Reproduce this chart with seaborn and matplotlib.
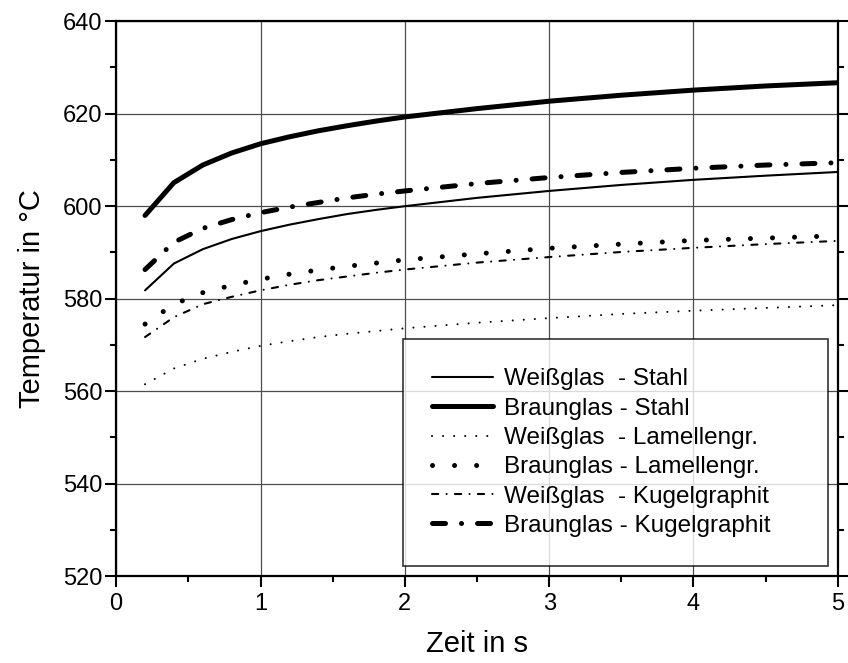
import numpy as np
import pandas as pd
import matplotlib
matplotlib.use("Agg")
import matplotlib.pyplot as plt
import seaborn as sns
from matplotlib.ticker import MultipleLocator

# ------------------------------------------------------------
# Data
# ------------------------------------------------------------
zeit = [0.2, 0.4, 0.6, 0.8, 1.0, 1.2, 1.4, 1.6, 1.8, 2.0,
        2.5, 3.0, 3.5, 4.0, 4.5, 5.0]

weiss_stahl = [581.8, 587.6, 590.7, 592.9, 594.6, 596.0, 597.2, 598.3,
               599.2, 600.0, 601.8, 603.3, 604.6, 605.7, 606.6, 607.4]
braun_stahl = [598.0, 605.1, 608.9, 611.5, 613.5, 615.0, 616.3, 617.4,
               618.4, 619.3, 621.1, 622.7, 624.0, 625.1, 626.0, 626.7]
weiss_lamelle = [561.5, 564.9, 567.0, 568.5, 569.8, 570.8, 571.7, 572.4,
                 573.0, 573.6, 574.8, 575.8, 576.7, 577.4, 578.0, 578.6]
braun_lamelle = [574.5, 578.8, 581.3, 582.9, 584.2, 585.3, 586.2, 587.0,
                 587.7, 588.4, 589.7, 590.9, 591.8, 592.6, 593.1, 593.6]
weiss_kugel = [571.7, 576.0, 578.8, 580.4, 581.8, 583.0, 584.0, 584.8,
               585.6, 586.3, 587.8, 589.0, 590.1, 591.0, 591.8, 592.5]
braun_kugel = [586.3, 592.2, 595.2, 597.1, 598.6, 599.8, 600.8, 601.8,
               602.6, 603.3, 604.9, 606.2, 607.3, 608.2, 608.9, 609.4]

labels = ["Weißglas  - Stahl", "Braunglas - Stahl",
          "Weißglas  - Lamellengr.", "Braunglas - Lamellengr.",
          "Weißglas  - Kugelgraphit", "Braunglas - Kugelgraphit"]
series = [weiss_stahl, braun_stahl, weiss_lamelle, braun_lamelle,
          weiss_kugel, braun_kugel]

# line style per series: (linewidth, dash pattern or None for solid)
styles = [(1.5, None),
          (3.6, None),
          (1.5, (0.01, 5.3)),
          (3.6, (0.01, 4.4)),
          (1.5, (3, 4, 0.01, 4)),
          (3.6, (2.6, 3.2, 0.01, 3.2))]

# ------------------------------------------------------------
# Plot
# ------------------------------------------------------------
sns.set_style("white")
plt.rcParams['font.family'] = ['Liberation Sans', 'DejaVu Sans']
plt.rcParams['text.color'] = 'black'
plt.rcParams['axes.labelcolor'] = 'black'
plt.rcParams['xtick.color'] = 'black'
plt.rcParams['ytick.color'] = 'black'

fig, ax = plt.subplots(figsize=(8.48, 6.63), dpi=100)
fig.subplots_adjust(left=0.137, right=0.988, top=0.968, bottom=0.131)

for lab, vals, (lw, dash) in zip(labels, series, styles):
    df = pd.DataFrame({'Zeit': zeit, 'Temp': vals})
    sns.lineplot(data=df, x='Zeit', y='Temp', color='black', lw=lw,
                 label=lab, ax=ax, legend=False)
    line = ax.lines[-1]
    line.set_dash_capstyle('round')
    line.set_solid_capstyle('round')
    if dash is not None:
        line.set_dashes(dash)

ax.set_xlim(0, 5)
ax.set_ylim(520, 640)
ax.xaxis.set_major_locator(MultipleLocator(1))
ax.xaxis.set_minor_locator(MultipleLocator(0.5))
ax.yaxis.set_major_locator(MultipleLocator(20))
ax.yaxis.set_minor_locator(MultipleLocator(10))

ax.grid(True, which='major', color='0.3', lw=0.9)
ax.set_axisbelow(True)
for sp in ax.spines.values():
    sp.set_linewidth(1.6)
    sp.set_color('black')

ax.tick_params(which='major', direction='out', length=8, width=1.5,
               labelsize=17, left=True, bottom=True)
ax.tick_params(which='minor', direction='out', length=4, width=1.5,
               left=True, bottom=True)
ax.tick_params(axis='y', which='major', pad=2)
ax.tick_params(axis='x', which='major', pad=4)
ax.tick_params(axis='y', which='both', right=True)

ax.set_xlabel("Zeit in s", fontsize=21, labelpad=11)
ax.set_ylabel("Temperatur in °C", fontsize=21, labelpad=12)

leg = ax.legend(loc='lower left', bbox_to_anchor=(0.3975, 0.018, 0.5885, 0.416),
                mode='expand', borderaxespad=0, fontsize=17.5, frameon=True,
                fancybox=False, edgecolor='black', handlelength=2.5,
                handletextpad=0.45, labelspacing=0.3, borderpad=1.2)
leg.get_frame().set_linewidth(1.2)
for h in leg.get_lines():
    h.set_dash_capstyle('round')

fig.savefig("out.png", dpi=100)
